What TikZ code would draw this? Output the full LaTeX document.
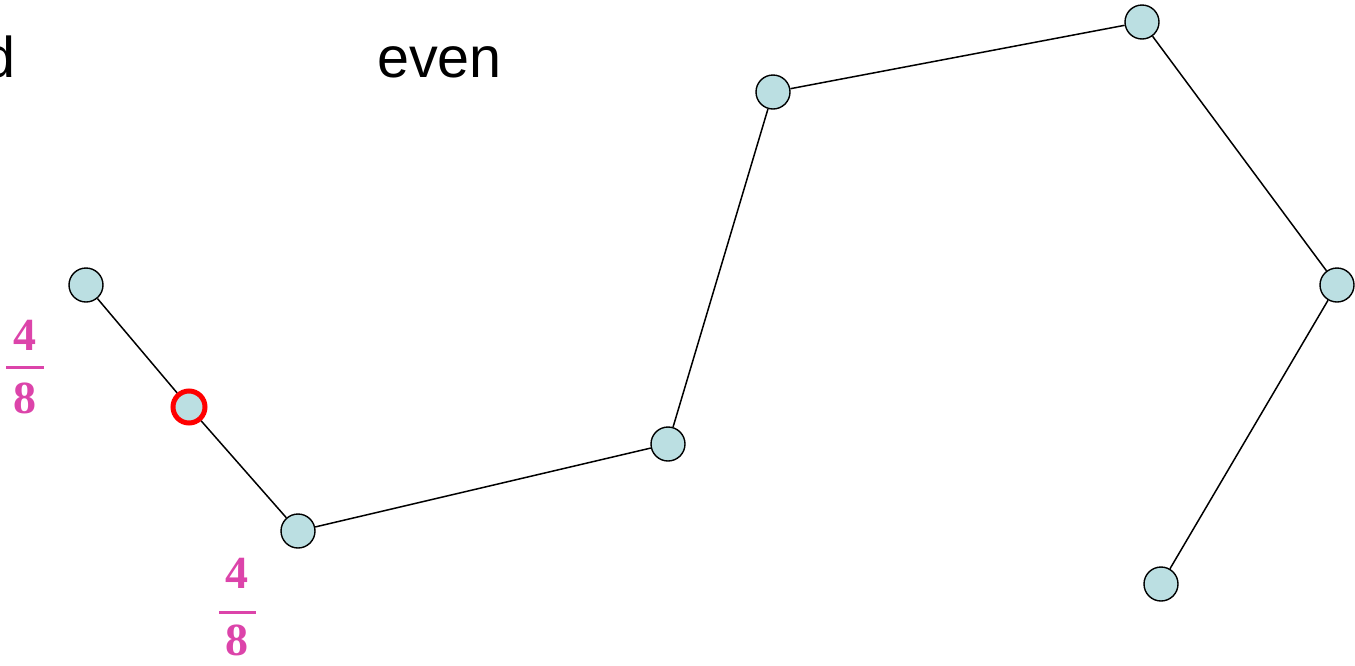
\documentclass[tikz,border=0pt]{standalone}
\usepackage{fontspec}
\setmainfont{Liberation Sans}
\newfontfamily\fracserif{Liberation Serif}
\begin{document}
\begin{tikzpicture}[x=1pt,y=-1pt,
  vtx/.style={circle,draw=black,line width=1.4pt,fill=nodeblue,minimum size=34pt,inner sep=0pt},
  redvtx/.style={circle,draw=red,line width=5pt,fill=nodeblue,minimum size=32pt,inner sep=0pt},
  edge/.style={draw=black,line width=1.5pt},
  word/.style={font=\fontsize{57.5}{60}\selectfont,inner sep=0pt},
  digit/.style={text=fracpink,font=\fracserif\bfseries\fontsize{46}{50}\selectfont,inner sep=0pt,anchor=base},
  fracbar/.style={fill=fracpink,draw=none}]
\definecolor{nodeblue}{RGB}{187,223,226}
\definecolor{fracpink}{RGB}{220,68,170}
\useasboundingbox (0,0) rectangle (1355,665);
\node[word,anchor=base east] (odd) at (16,77) {d};
\node[word,anchor=base west] (even) at (377,77) {even};
\node[vtx] (A) at (86,285) {};
\node[redvtx] (R) at (189,407) {};
\node[vtx] (B) at (298,531) {};
\node[vtx] (C) at (668,444) {};
\node[vtx] (D) at (773,92) {};
\node[vtx] (E) at (1142,22) {};
\node[vtx] (F) at (1337,285) {};
\node[vtx] (G) at (1161,584) {};
\path[edge] (A) -- (R);
\path[edge] (R) -- (B);
\path[edge] (B) -- (C);
\path[edge] (C) -- (D);
\path[edge] (D) -- (E);
\path[edge] (E) -- (F);
\path[edge] (F) -- (G);
% left fraction
\node[digit] (f1n) at (25,350) {4};
\path[fracbar] (6,365.5) rectangle (44,368.5);
\node[digit] (f1d) at (25,413) {8};
% bottom fraction
\node[digit] (f2n) at (237,588) {4};
\path[fracbar] (219,610.5) rectangle (256,613.5);
\node[digit] (f2d) at (237,655) {8};
\end{tikzpicture}
\end{document}
